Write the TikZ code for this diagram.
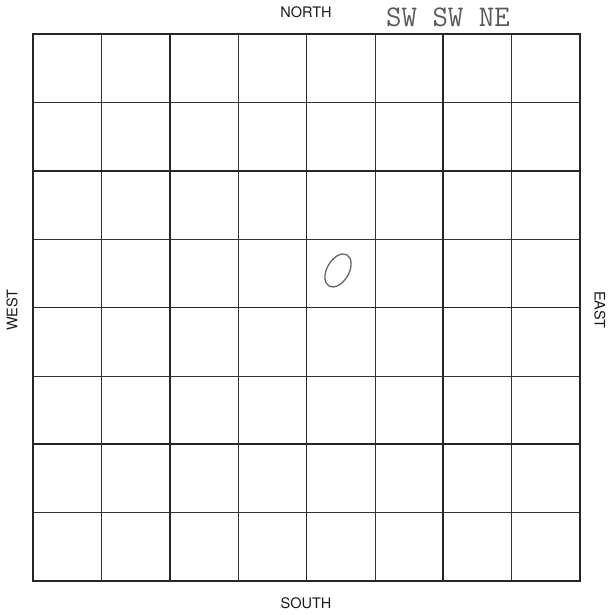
\documentclass[tikz,border=0pt]{standalone}
\usepackage{fontspec}
\newfontfamily\dirfont{TeX Gyre Heros}

\begin{document}
\begin{tikzpicture}[x=1pt,y=1pt]
\useasboundingbox (0,0) rectangle (613,615);
\tikzset{dirlabel/.style={font=\dirfont\fontsize{14.5}{16}\selectfont,text=black!90,inner sep=0pt}}
\def\cell{68.375}
\foreach \i in {1,3,5,7}{
  \draw[black!80,line width=.6pt] (33+\i*\cell,34)--(33+\i*\cell,581);
  \draw[black!80,line width=.6pt] (33,34+\i*\cell)--(580,34+\i*\cell);}
\foreach \i in {2,4,6}{
  \draw[black!85,line width=1.7pt] (33+\i*\cell,34)--(33+\i*\cell,581);
  \draw[black!85,line width=1.7pt] (33,34+\i*\cell)--(580,34+\i*\cell);}
\draw[black!85,line width=1.9pt] (33,34) rectangle (580,581);
\node[dirlabel] (north) at (306,603) {NORTH};
\node[dirlabel] (south) at (306,12) {SOUTH};
\node[dirlabel,rotate=90] (west) at (12,305) {WEST};
\node[dirlabel,rotate=-90] (east) at (600,305) {EAST};
\node[font=\ttfamily\fontsize{30}{32}\selectfont,text=black!65,inner sep=0pt] (quarter) at (448,598) {SW SW NE};
\draw[black!60,line width=1.3pt,rotate around={-30:(338,344.5)}] (338,344.5) ellipse (11 and 18);
\end{tikzpicture}
\end{document}
